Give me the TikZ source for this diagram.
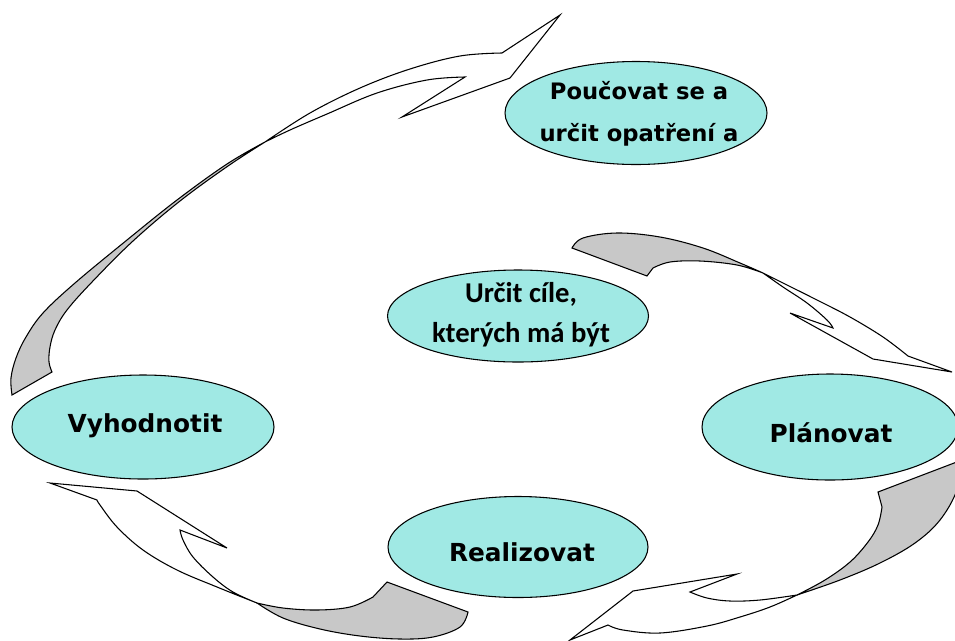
\documentclass[tikz,border=0pt]{standalone}
\usepackage{fontspec}
\setmainfont{DejaVu Sans}
\newfontfamily\carlito{Carlito}
\usetikzlibrary{shapes.geometric}
\definecolor{bubblefill}{RGB}{160,233,228}
\definecolor{backside}{RGB}{200,200,200}

\begin{document}
\begin{tikzpicture}[x=0.75pt,y=-0.75pt,
  bubble/.style={ellipse, draw=black, line width=0.8pt, fill=bubblefill, inner sep=0pt},
  lbl/.style={align=center, inner sep=0pt, font=\bfseries\fontsize{18.6}{22}\selectfont},
  lbltwo/.style={align=center, inner sep=0pt, font=\bfseries\fontsize{17}{31.5}\selectfont},
  lblcal/.style={align=center, inner sep=0pt, font=\carlito\bfseries\fontsize{21.5}{30}\selectfont},
  front/.style={draw=black, line width=0.8pt, fill=white, line join=miter},
  back/.style={draw=black, line width=0.8pt, fill=backside, line join=miter},
]
\useasboundingbox (0,0) rectangle (955,640);

% ---- curved arrow: Vyhodnotit -> Poucovat (left, upwards)
\path[back] plot[smooth, tension=0.6] coordinates {(12,395) (11,378) (16,358) (26,337) (43,313) (75,283) (127,240) (177,200) (227,164) (265,142)}
  -- plot[smooth, tension=0.6] coordinates {(265,142) (228,166) (180,201) (133,241) (92,282) (67,310) (55,330) (50,347) (49,362) (52,372)}
  -- cycle;
\path[front] plot[smooth, tension=0.6] coordinates {(265,142) (310,113) (360,88) (410,69) (460,56) (502,53)}
  -- (560,15) coordinate (tipA) -- (510,78) -- (402,117) -- (465,77)
  -- plot[smooth, tension=0.6] coordinates {(465,77) (427,80) (377,93) (327,114) (290,130) (265,142)}
  -- cycle;

% ---- curved arrow: Urcit cile -> Planovat (upper right)
\path[back] plot[smooth, tension=0.6] coordinates {(572,248) (583,238) (617,233) (660,237) (703,248) (740,263) (763,273)}
  -- plot[smooth, tension=0.6] coordinates {(763,273) (737,265) (700,261) (670,262) (653,268)}
  -- (647,276) -- cycle;
\path[front] plot[smooth, tension=0.6] coordinates {(763,273) (783,283) (817,300) (850,317) (883,337) (908,356)}
  -- (952,372) coordinate (tipB) -- (873,359) -- (790,313) -- (833,328)
  -- plot[smooth, tension=0.6] coordinates {(833,328) (827,320) (807,303) (783,287) (763,273)}
  -- cycle;

% ---- curved arrow: Planovat -> Realizovat (lower right)
\path[back] plot[smooth, tension=0.6] coordinates {(962,460) (957,490) (940,520) (915,543) (880,563) (840,580) (797,595)}
  -- plot[smooth, tension=0.6] coordinates {(797,595) (825,580) (850,562) (868,542) (878,525) (882,507)}
  -- (878,492) -- cycle;
\path[front] plot[smooth, tension=0.6] coordinates {(797,595) (770,607) (740,617) (707,626) (660,633) (623,630) (608,625)}
  -- (570,640) coordinate (tipC) -- (633,591) -- (737,574) -- (690,592)
  -- plot[smooth, tension=0.6] coordinates {(690,592) (707,598) (730,601) (760,600) (797,595)}
  -- cycle;

% ---- curved arrow: Realizovat -> Vyhodnotit (lower left)
\path[back] plot[smooth, tension=0.6] coordinates {(468,612) (460,627) (433,637) (400,639) (360,636) (320,629) (283,618) (257,603)}
  -- plot[smooth, tension=0.6] coordinates {(257,603) (283,608) (317,610) (350,607) (373,597)}
  -- (387,582) -- cycle;
\path[front] plot[smooth, tension=0.6] coordinates {(257,603) (217,587) (177,570) (143,550) (117,527) (100,505) (97,500)}
  -- (50,483) coordinate (tipD) -- (137,491) -- (227,548) -- (180,530)
  -- plot[smooth, tension=0.6] coordinates {(180,530) (183,540) (193,557) (213,577) (233,592) (257,603)}
  -- cycle;

% ---- ellipses
\node[bubble, minimum width=196.5pt, minimum height=77.25pt] (poucit) at (636,113) {};
\node[bubble, minimum width=195.75pt, minimum height=69pt] (cile) at (518,316) {};
\node[bubble, minimum width=196.5pt, minimum height=78pt] (vyhod) at (143,427) {};
\node[bubble, minimum width=192pt, minimum height=79.5pt] (plan) at (830,427) {};
\node[bubble, minimum width=195pt, minimum height=75.75pt] (real) at (518,547) {};

% ---- labels
\node[lbltwo] (poucitTxt) at (639,113.5) {Poučovat se a\\určit opatření a};
\node[lblcal] (cileTxt) at (521,315) {Určit cíle,\\kterých má být};
\node[lbl] (vyhodTxt) at (145,426) {Vyhodnotit};
\node[lbl] (planTxt) at (831,432.5) {Plánovat};
\node[lbl] (realTxt) at (522,552) {Realizovat};
\end{tikzpicture}
\end{document}
